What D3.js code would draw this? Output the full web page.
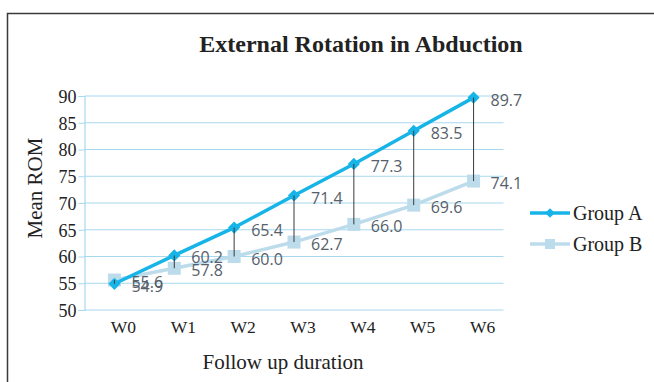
<!DOCTYPE html>
<html>
<head>
<meta charset="utf-8">
<script src="https://cdn.jsdelivr.net/npm/d3@7"></script>
<style>
  html, body { margin: 0; padding: 0; background: #fff; }
  svg { display: block; }
</style>
</head>
<body>
<svg id="chart" width="654" height="382"></svg>
<script>
// Follow-up visits and mean range of motion per group
const weeks = ["W0", "W1", "W2", "W3", "W4", "W5", "W6"];
const groupA = [54.9, 60.2, 65.4, 71.4, 77.3, 83.5, 89.7];
const groupB = [55.6, 57.8, 60.0, 62.7, 66.0, 69.6, 74.1];
const yTicks = [50, 55, 60, 65, 70, 75, 80, 85, 90];
const seriesNames = ["Group A", "Group B"];

const svg = d3.select("#chart");
const serif = "'Liberation Serif', 'Times New Roman', serif";
const sans = "'Open Sans', 'Noto Sans', sans-serif";

const colorA = "#17b4e8";
const colorB = "#bcdcec";
const gridColor = "#a6d8ef";

// Outer frame
svg.append("rect")
  .attr("x", 7.5).attr("y", 13.5)
  .attr("width", 700).attr("height", 400)
  .attr("fill", "#fff")
  .attr("stroke", "#3a3a3a").attr("stroke-width", 1.5);

const plot = { left: 84.5, right: 503.5, top: 96, bottom: 310 };

const x = d3.scaleBand().domain(weeks).range([plot.left, plot.right]);
const y = d3.scaleLinear().domain([50, 90]).range([plot.bottom, plot.top]);
const cx = d => x(d) + x.bandwidth() / 2;

// Horizontal gridlines
svg.append("g")
  .selectAll("line")
  .data(yTicks)
  .join("line")
  .attr("x1", plot.left).attr("x2", plot.right)
  .attr("y1", d => y(d)).attr("y2", d => y(d))
  .attr("stroke", gridColor).attr("stroke-width", 1);

// Y axis
const yAxis = svg.append("g")
  .attr("transform", `translate(${plot.left},0)`)
  .call(d3.axisLeft(y).tickValues(yTicks).tickSize(6).tickPadding(2));
yAxis.select(".domain").attr("stroke", gridColor).attr("stroke-width", 1.2);
yAxis.selectAll(".tick line").attr("stroke", gridColor);
yAxis.selectAll(".tick text")
  .attr("font-family", serif).attr("font-size", 18).attr("fill", "#222")
  .attr("dy", "0.36em");

// X axis labels
const xAxis = svg.append("g")
  .attr("transform", `translate(0,${plot.bottom})`)
  .call(d3.axisBottom(x).tickSize(0).tickPadding(11));
xAxis.select(".domain").remove();
xAxis.selectAll(".tick text")
  .attr("font-family", serif).attr("font-size", 17.5).attr("fill", "#222")
  .attr("dx", 9);

// Titles
svg.append("text")
  .attr("x", 361).attr("y", 52)
  .attr("text-anchor", "middle")
  .attr("font-family", serif).attr("font-weight", "bold").attr("font-size", 24)
  .attr("fill", "#222")
  .text("External Rotation in Abduction");

svg.append("text")
  .attr("x", 283).attr("y", 369)
  .attr("text-anchor", "middle")
  .attr("font-family", serif).attr("font-size", 21).attr("fill", "#222")
  .text("Follow up duration");

svg.append("text")
  .attr("transform", `translate(42,188) rotate(-90)`)
  .attr("text-anchor", "middle")
  .attr("font-family", serif).attr("font-size", 21).attr("fill", "#222")
  .text("Mean ROM");

const line = d3.line().x((d, i) => cx(weeks[i])).y(d => y(d));

// Group B line and square markers
svg.append("path").datum(groupB)
  .attr("d", line).attr("fill", "none")
  .attr("stroke", colorB).attr("stroke-width", 3.5);
svg.append("g").selectAll("rect")
  .data(groupB).join("rect")
  .attr("x", (d, i) => cx(weeks[i]) - 6.5)
  .attr("y", d => y(d) - 6.5)
  .attr("width", 13).attr("height", 13)
  .attr("fill", colorB);

// Group A line and diamond markers
svg.append("path").datum(groupA)
  .attr("d", line).attr("fill", "none")
  .attr("stroke", colorA).attr("stroke-width", 3.5);
const diamond = d3.symbol().type(d3.symbolDiamond2).size(95);
svg.append("g").selectAll("path")
  .data(groupA).join("path")
  .attr("d", diamond)
  .attr("transform", (d, i) => `translate(${cx(weeks[i])},${y(d)})`)
  .attr("fill", colorA);

// High-low drop lines between the two groups
svg.append("g").selectAll("line")
  .data(weeks).join("line")
  .attr("x1", d => cx(d)).attr("x2", d => cx(d))
  .attr("y1", (d, i) => y(groupA[i])).attr("y2", (d, i) => y(groupB[i]))
  .attr("stroke", "#3a3a3a").attr("stroke-width", 1);

// Value labels
function labels(values) {
  svg.append("g").selectAll("text")
    .data(values).join("text")
    .attr("x", (d, i) => cx(weeks[i]) + 17)
    .attr("y", d => y(d) + 8)
    .attr("font-family", sans).attr("font-size", 16).attr("fill", "#56606a")
    .text(d => d.toFixed(1));
}
labels(groupB);
labels(groupA);

// Legend
const legend = svg.append("g");
[[colorA, 213, "diamond"], [colorB, 244, "square"]].forEach(([c, ly, shape], k) => {
  legend.append("line")
    .attr("x1", 530).attr("x2", 570).attr("y1", ly).attr("y2", ly)
    .attr("stroke", c).attr("stroke-width", 3.5);
  if (shape === "diamond") {
    legend.append("path")
      .attr("d", d3.symbol().type(d3.symbolDiamond2).size(60))
      .attr("transform", `translate(550,${ly})`).attr("fill", c);
  } else {
    legend.append("rect")
      .attr("x", 545).attr("y", ly - 5).attr("width", 10).attr("height", 10)
      .attr("fill", c);
  }
  legend.append("text")
    .attr("x", 573).attr("y", ly + 6.5)
    .attr("font-family", serif).attr("font-size", 20).attr("fill", "#222")
    .text(seriesNames[k]);
});
</script>
</body>
</html>
